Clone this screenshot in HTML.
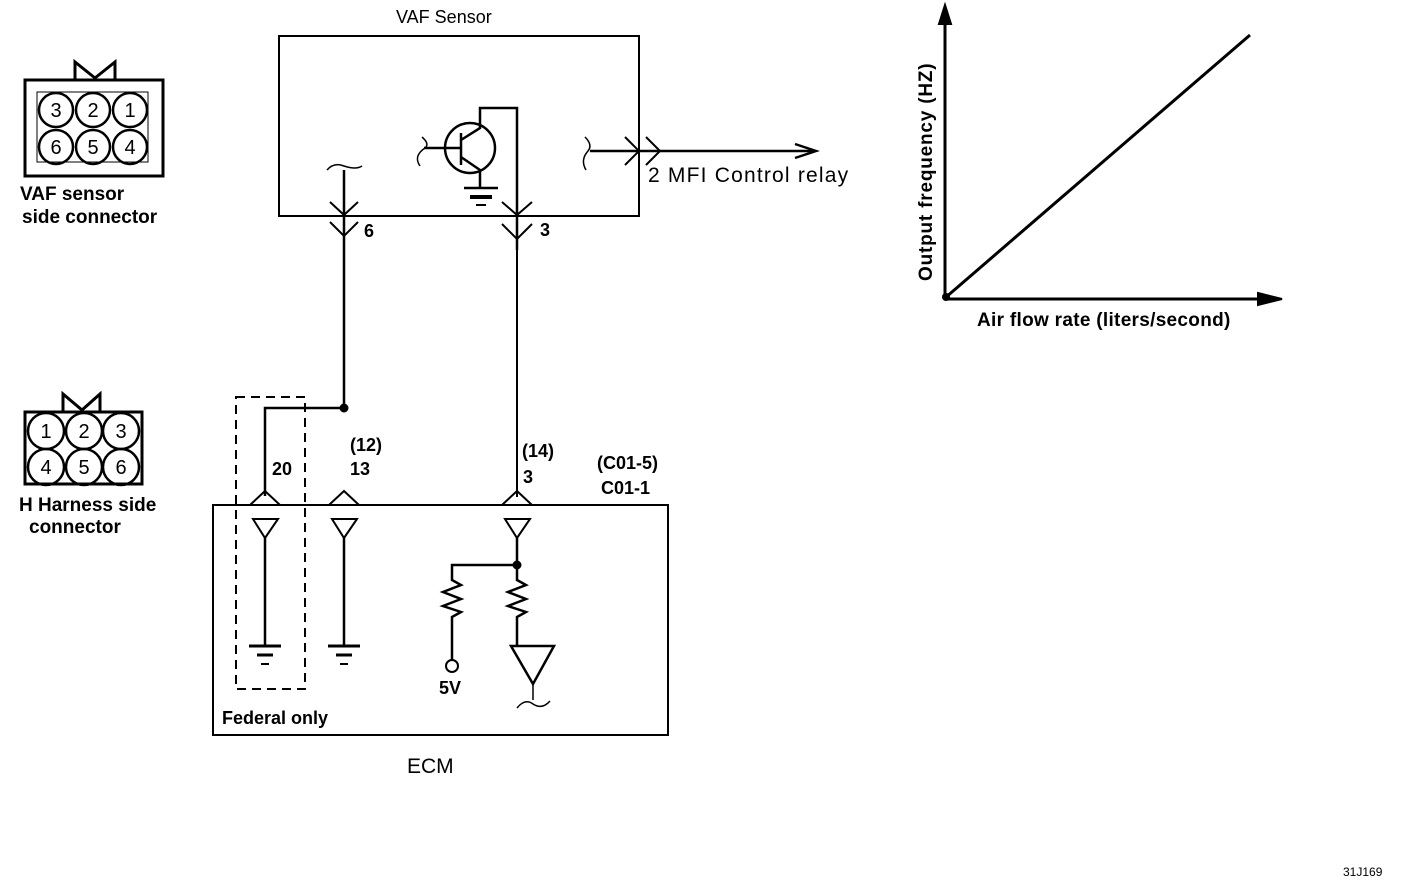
<!DOCTYPE html>
<html><head><style>body{margin:0;background:#fff}svg{display:block}text{font-family:"Liberation Sans",sans-serif;font-size:18px;fill:#000}.b{font-weight:bold}</style></head>
<body>
<svg width="1408" height="886" viewBox="0 0 1408 886" xmlns="http://www.w3.org/2000/svg" fill="none" stroke="#000" stroke-width="2">
<rect x="25" y="80" width="138" height="96" stroke-width="3"/>
<path d="M75 80 V62 L95 78 L115 62 V80" stroke-width="3"/>
<rect x="37" y="92" width="111" height="70" stroke-width="1"/>
<g stroke-width="2.5">
<circle cx="56" cy="110" r="17"/><circle cx="93" cy="110" r="17"/><circle cx="130" cy="110" r="17"/>
<circle cx="56" cy="147" r="17"/><circle cx="93" cy="147" r="17"/><circle cx="130" cy="147" r="17"/>
</g>
<g stroke="none" text-anchor="middle"><text x="56" y="117" style="font-size:20px">3</text><text x="93" y="117" style="font-size:20px">2</text><text x="130" y="117" style="font-size:20px">1</text>
<text x="56" y="154" style="font-size:20px">6</text><text x="93" y="154" style="font-size:20px">5</text><text x="130" y="154" style="font-size:20px">4</text></g>
<text class="b" x="20" y="200" stroke="none" style="font-size:19px">VAF   sensor</text>
<text class="b" x="22" y="223" stroke="none" style="font-size:19px">side connector</text>
<rect x="25" y="412" width="117" height="72" stroke-width="3"/>
<path d="M63 412 V394 L82 410 L100 394 V412" stroke-width="3"/>
<g stroke-width="2.5">
<circle cx="46" cy="431" r="18"/><circle cx="84" cy="431" r="18"/><circle cx="121" cy="431" r="18"/>
<circle cx="46" cy="467" r="18"/><circle cx="84" cy="467" r="18"/><circle cx="121" cy="467" r="18"/>
</g>
<g stroke="none" text-anchor="middle"><text x="46" y="438" style="font-size:20px">1</text><text x="84" y="438" style="font-size:20px">2</text><text x="121" y="438" style="font-size:20px">3</text>
<text x="46" y="474" style="font-size:20px">4</text><text x="84" y="474" style="font-size:20px">5</text><text x="121" y="474" style="font-size:20px">6</text></g>
<text class="b" x="19" y="511" stroke="none" style="font-size:19px">H Harness side</text>
<text class="b" x="29" y="533" stroke="none" style="font-size:19px">connector</text>

<text x="396" y="23" stroke="none">VAF Sensor</text>
<rect x="279" y="36" width="360" height="180" stroke-width="2"/>
<circle cx="470" cy="148" r="25" stroke-width="2.5"/>
<path d="M424 148 H461 M461 133 V165 M461 140 L480 128 V108 H517 V250 M461 157 L480 170 V188" stroke-width="2.5"/>
<path d="M464 188 H498" stroke-width="2.5"/><path d="M470 197 H492" stroke-width="4"/><path d="M476 205 H486" stroke-width="2"/>
<path d="M422 137 Q430 144 425 148 Q413 156 420 166" stroke-width="1.5"/>
<path d="M344 170 V408" stroke-width="2.5"/>
<path d="M327 170 Q334 162 344 166 Q356 170 362 166" stroke-width="1.5"/>
<path d="M330 202 L344 215 L358 202 M330 222 L344 236 L358 222" stroke-width="2"/>
<text class="b" x="364" y="237" stroke="none">6</text>
<path d="M502 202 L517 215 L532 202 M502 224 L517 239 L532 224" stroke-width="2"/>
<text class="b" x="540" y="236" stroke="none">3</text>
<path d="M590 151 H812" stroke-width="2.5"/>
<path d="M795 144 L816 151 L795 158" stroke-width="2.5"/>
<path d="M585 137 Q593 145 588 151 Q580 160 586 170" stroke-width="1.5"/>
<path d="M625 137 L639 151 L625 165 M646 137 L660 151 L646 165" stroke-width="2"/>
<text x="648" y="182" stroke="none" style="font-size:21px;letter-spacing:1.2px">2  MFI Control relay</text>

<rect x="213" y="505" width="455" height="230" stroke-width="2"/>
<rect x="236" y="397" width="69" height="292" stroke-dasharray="9,6" stroke-width="2"/>
<path d="M344 408 H265 V496" stroke-width="2.5"/>
<circle cx="344" cy="408" r="3.5" fill="#000"/>
<path d="M517 250 V497" stroke-width="2"/>
<path d="M250 505 L265 491 L280 505 M329 505 L344 491 L359 505 M502 505 L517 491 L532 505" stroke-width="2"/>
<text class="b" x="272" y="475" stroke="none">20</text>
<text class="b" x="350" y="451" stroke="none">(12)</text><text class="b" x="350" y="475" stroke="none">13</text>
<text class="b" x="522" y="457" stroke="none">(14)</text><text class="b" x="523" y="483" stroke="none">3</text>
<text class="b" x="597" y="469" stroke="none">(C01-5)</text><text class="b" x="601" y="494" stroke="none">C01-1</text>
<path d="M253 519 H278 L265 538 Z M332 519 H357 L344 538 Z M505 519 H530 L517 538 Z" stroke-width="2"/>
<path d="M265 538 V645 M344 538 V645" stroke-width="2.5"/>
<path d="M249 646 H281 M328 646 H360" stroke-width="3"/><path d="M257 655 H273 M336 655 H352" stroke-width="3"/><path d="M261 664 H269 M340 664 H348" stroke-width="2"/>
<path d="M517 538 V565 H452 V580 L461 585 L443 592 L461 599 L443 606 L461 612 L452 617 V660" stroke-width="2.5"/>
<path d="M517 565 V580 L526 585 L508 592 L526 599 L508 606 L526 612 L517 617 V646" stroke-width="2.5"/>
<circle cx="517" cy="565" r="3.5" fill="#000"/>
<circle cx="452" cy="666" r="6" stroke-width="2"/>
<text class="b" x="439" y="694" stroke="none">5V</text>
<path d="M511 646 H554 L533 684 Z" stroke-width="2.5"/>
<path d="M533 684 V700 M517 708 Q525 698 533 704 Q542 710 550 701" stroke-width="1.5"/>
<text class="b" x="222" y="724" stroke="none">Federal only</text>
<text x="407" y="773" stroke="none" style="font-size:21px">ECM</text>

<path d="M945 300 V18" stroke-width="3"/>
<path d="M939 24 L945 5 L951 24 Z" fill="#000"/>
<path d="M945 299 H1265" stroke-width="3"/>
<path d="M1258 293 L1282 299 L1258 305 Z" fill="#000"/>
<path d="M945 298 L1250 35" stroke-width="3"/>
<circle cx="946" cy="297" r="3" fill="#000"/>
<text class="b" x="977" y="326" stroke="none" style="font-size:19px;letter-spacing:0.3px">Air flow rate (liters/second)</text>
<text class="b" transform="translate(932,281) rotate(-90)" stroke="none" style="font-size:19px;letter-spacing:0.8px">Output frequency (HZ)</text>
<text x="1343" y="876" stroke="none" style="font-size:12px">31J169</text>
</svg>
</body></html>
